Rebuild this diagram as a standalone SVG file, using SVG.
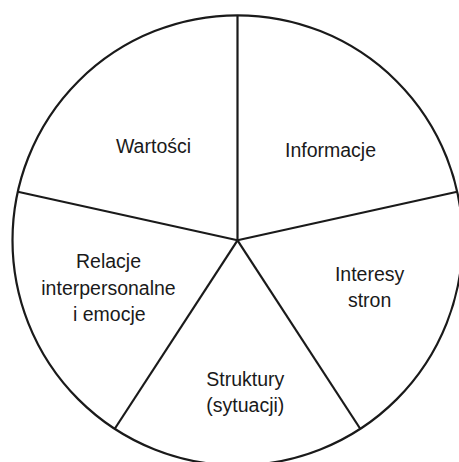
<svg xmlns="http://www.w3.org/2000/svg" width="459" height="462" viewBox="0 0 459 462">
<style>
.ln{fill:none;stroke:#1a1a1a;stroke-width:2.2}
.lb{font-family:"Liberation Sans",Arial,sans-serif;font-size:19.5px;fill:#1a1a1a;text-anchor:middle}
</style>
<rect width="459" height="462" fill="#fff"/>
<g id="outline">
<circle class="ln" cx="237.5" cy="240.3" r="225"/>
</g>
<g id="connectors">
<line class="ln" x1="237.5" y1="240.3" x2="237.5" y2="15.3"/>
<line class="ln" x1="237.5" y1="240.3" x2="457.2" y2="191.7"/>
<line class="ln" x1="237.5" y1="240.3" x2="17.8" y2="191.7"/>
<line class="ln" x1="237.5" y1="240.3" x2="114.6" y2="429"/>
<line class="ln" x1="237.5" y1="240.3" x2="360.4" y2="429"/>
</g>
<g id="wartosci"><text class="lb" x="153.5" y="152.7">Wartości</text></g>
<g id="informacje"><text class="lb" x="330.5" y="157.3">Informacje</text></g>
<g id="relacje"><text class="lb" x="108.5" y="268.3">Relacje</text><text class="lb" x="108.5" y="295">interpersonalne</text><text class="lb" x="109.3" y="321.3">i emocje</text></g>
<g id="interesy"><text class="lb" x="369.6" y="281">Interesy</text><text class="lb" x="369.6" y="306.7">stron</text></g>
<g id="struktury"><text class="lb" x="245.3" y="386.3">Struktury</text><text class="lb" x="245.3" y="412">(sytuacji)</text></g>
</svg>
